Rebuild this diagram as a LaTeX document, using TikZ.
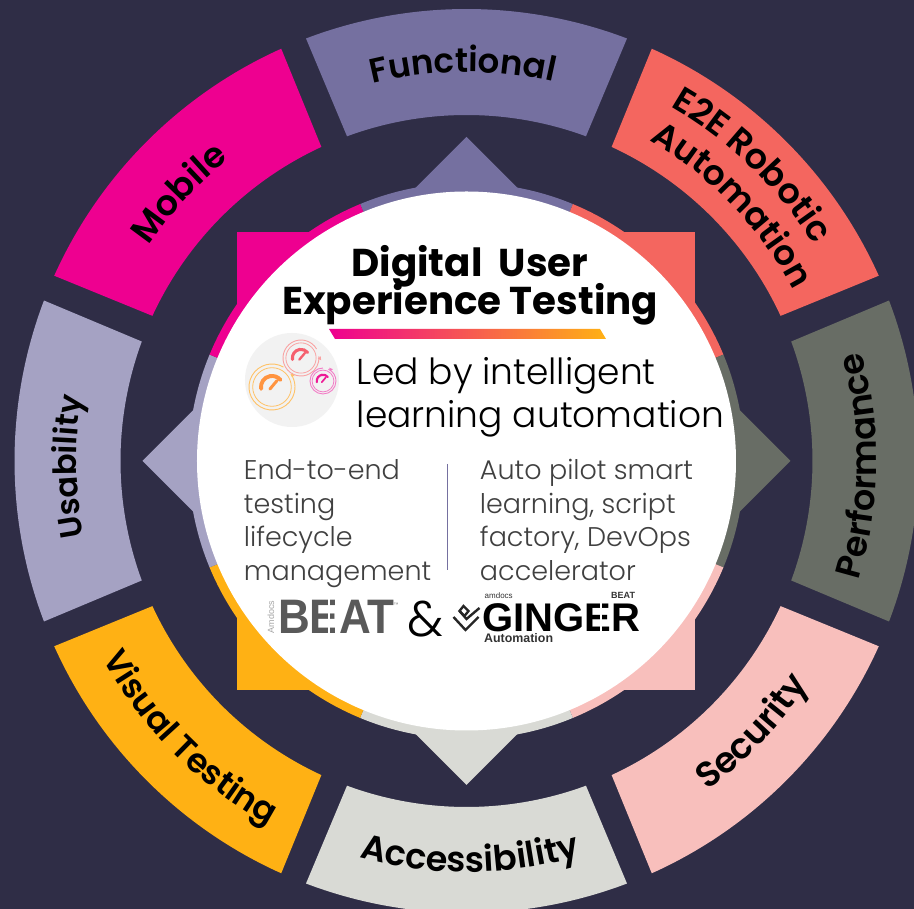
\documentclass[tikz,border=0pt]{standalone}
\usepackage{fontspec}
\usetikzlibrary{decorations.text,shadings}
\setmainfont{Poppins}
\newfontfamily\lightf{Poppins Light}
\newfontfamily\semif{Poppins SemiBold}
\newfontfamily\boldf{Poppins Bold}
\newfontfamily\armf{Liberation Sans}
\definecolor{bgc}{HTML}{2F2D46}
\definecolor{cfun}{HTML}{7570A0}
\definecolor{ce2e}{HTML}{F4665F}
\definecolor{cperf}{HTML}{686D65}
\definecolor{csec}{HTML}{F8BFBC}
\definecolor{cacc}{HTML}{D9DAD5}
\definecolor{cvis}{HTML}{FFB114}
\definecolor{cusa}{HTML}{A5A2C3}
\definecolor{cmob}{HTML}{EE0090}
\definecolor{barl}{HTML}{EE0090}
\definecolor{barr}{HTML}{FFB114}
\definecolor{gbigring}{HTML}{FFC266}
\definecolor{gbigdial}{HTML}{FF9440}
\definecolor{gmidring}{HTML}{F9A3A3}
\definecolor{gmiddial}{HTML}{F5606E}
\definecolor{gsmring}{HTML}{F27CC6}
\definecolor{gsmdial}{HTML}{EE1A96}
\newcommand{\seg}[2]{%
  \pgfmathsetmacro{\aa}{#1-20.8}\pgfmathsetmacro{\ab}{#1+20.8}%
  \pgfmathsetmacro{\ia}{#1-20.2}\pgfmathsetmacro{\ib}{#1+20.2}%
  \fill[#2] (\aa:452pt) arc[start angle=\aa,end angle=\ab,radius=452pt] -- (\ib:346pt) arc[start angle=\ib,end angle=\ia,radius=346pt] -- cycle;%
  \begin{scope}
    \pgfmathsetmacro{\ca}{#1-22.5}\pgfmathsetmacro{\cb}{#1+22.5}%
    \clip (0,0) -- (\ca:700pt) -- (#1:900pt) -- (\cb:700pt) -- cycle;
    \fill[#2] (0,0) circle[radius=278pt];
    \fill[#2] (-229pt,-229pt) rectangle (229pt,229pt);
    \fill[#2] (324pt,0pt) -- (0pt,324pt) -- (-324pt,0pt) -- (0pt,-324pt) -- cycle;
  \end{scope}}
% #1 radius, #2 start, #3 end, #4 size, #5 text
\newcommand{\curved}[5]{%
  \path[decorate,decoration={text along path,text align=center,raise=0pt,
     text={|\fontsize{#4}{#4}\selectfont\semif|#5}}]
     (#2:#1pt) arc[start angle=#2,end angle=#3,radius=#1pt];}
% x y r ringcolour dialcolour gapangle
\newcommand{\gauge}[6]{%
  \pgfmathsetmacro{\ge}{#6+335}%
  \draw[#4,line width=0.9pt] (#1pt,#2pt) ++(#6:#3pt) arc[start angle=#6,end angle=\ge,radius=#3pt];
  \pgfmathsetmacro{\rb}{#3*0.84}%
  \draw[#4,line width=0.8pt] (#1pt,#2pt) circle[radius=\rb pt];
  \pgfmathsetmacro{\rc}{#3*0.48}\pgfmathsetmacro{\ld}{#3*0.17}\pgfmathsetmacro{\le}{#3*0.13}%
  \pgfmathsetmacro{\rd}{#3*0.62}%
  \draw[#5,line width=\ld pt,line cap=round] (#1pt,#2pt) ++(190:\rc pt) arc[start angle=190,end angle=40,radius=\rc pt];
  \draw[#5,line width=\le pt,line cap=round] (#1pt,#2pt) ++(225:\le pt) -- ++(50:\rc pt);
  \fill[#4] (#1pt,#2pt) ++(\ge:#3pt) ++(\ge:1.8pt) -- ++(\ge-90:4pt) -- ++(\ge+150:3.6pt) -- cycle;}
\begin{document}
\begin{tikzpicture}[x=1pt,y=1pt,
  txt/.style={inner sep=0pt,outer sep=0pt,anchor=base west,text=#1},
  txt/.default=black]
\useasboundingbox (-466.5,-448) rectangle (447.5,461);
\fill[bgc] (-466.5,-448) rectangle (447.5,461);
\seg{90}{cfun}
\seg{45}{ce2e}
\seg{0}{cperf}
\seg{-45}{csec}
\seg{-90}{cacc}
\seg{-135}{cvis}
\seg{180}{cusa}
\seg{135}{cmob}
\fill[white] (0,0) circle[radius=269.5pt];
% curved labels
\curved{389}{104.5}{76.5}{34}{Functional}
\curved{384}{161}{113}{35}{Mobile}
\curved{390}{205.8}{155.8}{32}{Usability}
\curved{409}{74}{18}{35}{E2E Robotic}
\curved{369}{76.4}{11.4}{34.5}{Automation}
\curved{410}{-24.2}{22.8}{35}{Performance}
\curved{408}{-71}{-16}{35.5}{Security}
\curved{411}{-110}{-69}{35}{Accessibility}
\curved{414}{-168}{-102}{33.5}{Visual Testing}
% title
\node[inner sep=0pt,anchor=base] (t1) at (3.5,184) {\fontsize{38.8}{38.8}\selectfont\boldf Digital\ \ User};
\node[inner sep=0pt,anchor=base] (t2) at (3.5,146) {\fontsize{38.8}{38.8}\selectfont\boldf Experience Testing};
\shade[left color=barl,right color=barr] (-137.5,132) -- (133.5,132) -- (139.5,122) -- (-131.5,122) -- cycle;
% icon
\fill[black!5] (-174.5,81) circle[radius=47pt];
\gauge{-194.5}{74}{23}{gbigring}{gbigdial}{60}
\gauge{-165.5}{103}{18}{gmidring}{gmiddial}{30}
\gauge{-143.5}{80}{13}{gsmring}{gsmdial}{90}
% body
\node[txt] (led) at (-109.5,76) {\fontsize{36}{36}\selectfont\lightf Led by intelligent};
\node[txt] (lrn) at (-109.5,33) {\fontsize{36}{36}\selectfont\lightf learning automation};
\foreach \t/\y in {End-to-end/-19,testing/-53,lifecycle/-86,management/-120}
  \node[txt=black!75] at (-222.5,\y) {\fontsize{27}{27}\selectfont\lightf \t};
\foreach \t/\y in {Auto pilot smart/-19,{learning, script}/-53,{factory, DevOps}/-86,accelerator/-120}
  \node[txt=black!75] at (13.5,\y) {\fontsize{27}{27}\selectfont\lightf \t};
\coordinate (d1) at (-18.5,-3);
\coordinate (d2) at (-18.5,-109);
\draw[cfun,line width=1pt] (d1) -- (d2);
% logos
\node[inner sep=0pt,anchor=base west,text=black!65,yscale=1.1] (beat) at (-188.5,-173) {\fontsize{44}{44}\selectfont\armf\bfseries BEAT};
\fill[white] (-138.5,-172) rectangle (-136.5,-138);
\fill[white] (-131,-172) rectangle (-129.5,-138);
\node[inner sep=0pt,anchor=base west,text=black!50] at (-73,-146) {\fontsize{5}{5}\selectfont\armf ™};
\node[inner sep=0pt,rotate=90,text=black!35] (am) at (-195.5,-156) {\fontsize{9}{9}\selectfont\armf Amdocs};
\node[inner sep=0pt,anchor=base west] (amp) at (-59,-176) {\fontsize{50}{50}\selectfont\lightf\&};
% logo mark
\draw[black!85,line width=2.4pt,line join=miter] (-13,-156) -- (-1,-169) -- (12,-156);
\draw[black!85,line width=2.4pt,line join=miter] (-7,-150) -- (0,-158) -- (13,-147);
\draw[black!85,line width=2.4pt,line join=miter] (-7,-150) -- (-3,-145) -- (2,-150) -- (-2,-155) -- cycle;
\node[inner sep=0pt,anchor=base west] (gin) at (15.5,-171) {\fontsize{40}{40}\selectfont\armf\bfseries GINGER};
\fill[white] (134,-172) rectangle (136,-142);
\node[inner sep=0pt,anchor=base west,text=black!80] at (18,-138) {\fontsize{8}{8}\selectfont\armf amdocs};
\node[inner sep=0pt,anchor=base west,text=black!80] at (144.5,-138) {\fontsize{9}{9}\selectfont\armf\bfseries BEAT};
\node[inner sep=0pt,anchor=base west,text=black!80] at (17.5,-182) {\fontsize{12.4}{12.4}\selectfont\armf\bfseries Automation};
\end{tikzpicture}
\end{document}
